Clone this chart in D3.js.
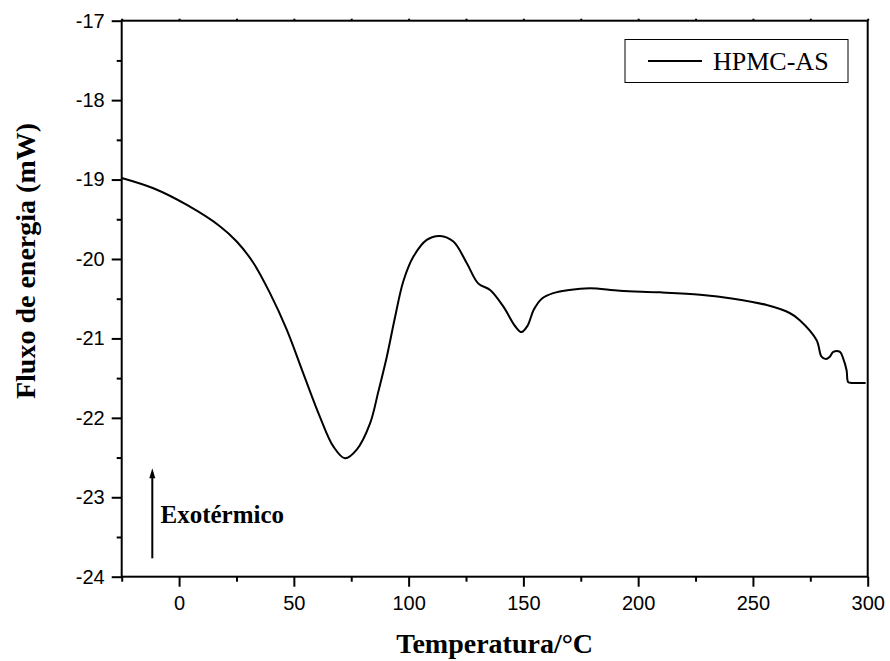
<!DOCTYPE html>
<html>
<head>
<meta charset="utf-8">
<script src="https://cdn.jsdelivr.net/npm/d3@7"></script>
<style>
  html, body { margin: 0; padding: 0; background: #fff; }
  svg { display: block; }
</style>
</head>
<body>
<svg id="chart" width="890" height="661"></svg>
<script>
// Data (HPMC-AS)
const temperature = [-25, -11.2, 3.4, 17.9, 25.1, 32.4, 39.6, 46.9, 54.1, 61.4, 67.2, 72.3, 77.4, 83.2, 86.8, 90.5, 94.1, 97.7, 102.1, 107.9, 113.7, 119.5, 125.3, 130.4, 135.5, 141.3, 146.5, 149.2, 151.8, 154.5, 158, 163, 170, 179, 192, 209.5, 227, 241.5, 256, 266, 270.4, 277.7, 279.9, 281.8, 283.5, 285, 287.9, 289.3, 290.8, 291.5, 293, 299.1];
const heatFlow = [-18.98, -19.11, -19.32, -19.59, -19.78, -20.05, -20.43, -20.89, -21.44, -21.99, -22.36, -22.51, -22.40, -22.07, -21.67, -21.23, -20.73, -20.28, -19.97, -19.76, -19.71, -19.78, -20.05, -20.31, -20.39, -20.60, -20.85, -20.92, -20.84, -20.64, -20.50, -20.43, -20.39, -20.37, -20.40, -20.42, -20.45, -20.50, -20.58, -20.68, -20.77, -21.02, -21.23, -21.26, -21.23, -21.17, -21.17, -21.25, -21.40, -21.55, -21.56, -21.56];
const xTicks = [0, 50, 100, 150, 200, 250, 300];
const xMinorTicks = [-25, 25, 75, 125, 175, 225, 275];
const yTicks = [-24, -23, -22, -21, -20, -19, -18, -17];
const yMinorTicks = [-23.5, -22.5, -21.5, -20.5, -19.5, -18.5, -17.5];
const seriesName = "HPMC-AS";
const xTitle = "Temperatura/°C";
const yTitle = "Fluxo de energia (mW)";
const annotation = "Exotérmico";

const svg = d3.select("#chart");
const L = 121.7, R = 867.7, T = 20.7, B = 576.7;
const x = d3.scaleLinear().domain([-25, 300]).range([L, R]);
const y = d3.scaleLinear().domain([-24, -17]).range([B, T]);

const data = temperature.map((t, i) => ({t, v: heatFlow[i]}));

// curve
svg.append("path")
  .datum(data)
  .attr("fill", "none")
  .attr("stroke", "#000")
  .attr("stroke-width", 2)
  .attr("stroke-linejoin", "round")
  .attr("d", d3.line().x(d => x(d.t)).y(d => y(d.v)).curve(d3.curveCatmullRom.alpha(0.5)));

// frame
svg.append("rect")
  .attr("x", L).attr("y", T).attr("width", R - L).attr("height", B - T)
  .attr("fill", "none").attr("stroke", "#000").attr("stroke-width", 2);

function styleAxis(g) {
  g.select(".domain").remove();
  g.selectAll(".tick line").attr("stroke", "#000").attr("stroke-width", 2);
  g.selectAll(".tick text")
    .attr("fill", "#000")
    .style("font-family", "'Liberation Sans', Arial, sans-serif")
    .style("font-size", "20px");
}
const fmt = d => String(d);

// bottom axis
svg.append("g").attr("transform", `translate(0,${B})`)
  .call(d3.axisBottom(x).tickValues(xTicks).tickSize(10).tickPadding(9).tickFormat(fmt))
  .call(styleAxis);
svg.append("g").attr("transform", `translate(0,${B})`)
  .call(d3.axisBottom(x).tickValues(xMinorTicks).tickSize(5).tickFormat(""))
  .call(styleAxis);
// top axis tiny ticks
svg.append("g").attr("transform", `translate(0,${T})`)
  .call(d3.axisTop(x).tickValues(xTicks.concat(xMinorTicks)).tickSize(2).tickFormat(""))
  .call(styleAxis);

// left axis
svg.append("g").attr("transform", `translate(${L},0)`)
  .call(d3.axisLeft(y).tickValues(yTicks).tickSize(10).tickPadding(7).tickFormat(fmt))
  .call(styleAxis);
svg.append("g").attr("transform", `translate(${L},0)`)
  .call(d3.axisLeft(y).tickValues(yMinorTicks).tickSize(5).tickFormat(""))
  .call(styleAxis);

// axis titles
svg.append("text")
  .attr("x", (L + R) / 2).attr("y", 653)
  .attr("text-anchor", "middle")
  .style("font-family", "'Liberation Serif', 'Times New Roman', serif")
  .style("font-weight", "bold").style("font-size", "28px")
  .text(xTitle);

svg.append("text")
  .attr("transform", "translate(35,261) rotate(-90)")
  .attr("text-anchor", "middle")
  .style("font-family", "'Liberation Serif', 'Times New Roman', serif")
  .style("font-weight", "bold").style("font-size", "28px")
  .text(yTitle);

// legend
svg.append("rect")
  .attr("x", 625).attr("y", 39.5).attr("width", 223).attr("height", 43)
  .attr("fill", "#fff").attr("stroke", "#000").attr("stroke-width", 1);
svg.append("line")
  .attr("x1", 648).attr("x2", 702).attr("y1", 61).attr("y2", 61)
  .attr("stroke", "#000").attr("stroke-width", 2);
svg.append("text")
  .attr("x", 713).attr("y", 70)
  .style("font-family", "'Liberation Serif', 'Times New Roman', serif")
  .style("font-size", "26px")
  .text(seriesName);

// exothermic arrow annotation
const ax = 152.3, aTop = 468.3, aBot = 558.3;
svg.append("line")
  .attr("x1", ax).attr("x2", ax).attr("y1", aBot).attr("y2", aTop + 8)
  .attr("stroke", "#000").attr("stroke-width", 2);
svg.append("path")
  .attr("d", `M${ax},${aTop} L${ax - 3},${aTop + 10} L${ax + 3},${aTop + 10} Z`)
  .attr("fill", "#000");

svg.append("text")
  .attr("x", 160.5).attr("y", 523.3)
  .style("font-family", "'Liberation Serif', 'Times New Roman', serif")
  .style("font-weight", "bold").style("font-size", "25px")
  .text(annotation);
</script>
</body>
</html>
